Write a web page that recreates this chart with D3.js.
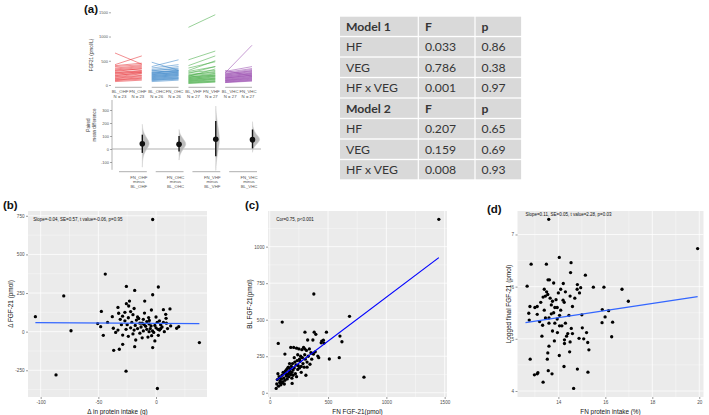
<!DOCTYPE html>
<html><head><meta charset="utf-8">
<script src="https://cdn.jsdelivr.net/npm/d3@7"></script>
<style>body{margin:0;background:#fff} svg{display:block}</style>
</head><body><svg id="c" width="709" height="415" font-family='"Liberation Sans", Arial, sans-serif'></svg>
<script>
// ================= DATA =================
// Panel (a) – paired estimation plot
const groups = ["OHF","OHC","VHF","VHC"];
const groupN = [23,26,27,27];
const blOHF = [660,420,400,380,350,330,310,300,280,260,250,240,220,200,190,170,160,140,130,110,100,90,70];
const fnOHF = [430,600,450,420,400,380,360,330,340,300,290,260,280,240,260,230,200,190,170,150,140,120,100];
const blOHC = [470,380,350,320,300,290,270,260,250,240,230,220,210,200,190,180,170,160,150,140,130,120,110,100,90,70];
const fnOHC = [300,520,420,380,330,350,290,310,280,300,260,250,270,230,240,210,220,190,200,160,180,150,140,130,120,100];
const blVHF = [1190,520,400,350,300,280,260,240,220,200,190,180,170,160,150,140,130,120,110,100,90,80,70,60,50,40,30];
const fnVHF = [1450,700,600,480,500,380,300,380,260,280,240,330,200,230,210,180,190,150,170,140,130,120,110,90,80,70,60];
const blVHC = [250,300,280,260,240,230,220,210,200,190,180,170,160,150,145,140,130,120,110,100,95,90,80,70,60,55,50];
const fnVHC = [820,180,380,340,320,290,300,260,280,240,250,220,230,200,190,210,180,170,160,150,140,130,120,110,100,90,80];
const topTicks = [0,500,1000,1500];
const diffMean = [40,37,75,72];
const ciLow = [-30,-20,-55,5];
const ciHigh = [110,100,215,150];
const diffTicks = [-100,0,100,200,300];
// bootstrap distribution profiles [value, relative density]
const violinOHF = [[-140,0],[-80,0.04],[-40,0.18],[0,0.55],[40,1],[80,0.6],[120,0.2],[160,0.03],[190,0]];
const violinOHC = [[-85,0],[-45,0.08],[0,0.5],[37,1],[75,0.55],[115,0.1],[150,0]];
const violinVHF = [[-165,0],[-110,0.05],[-40,0.2],[30,0.42],[75,0.48],[130,0.4],[200,0.2],[270,0.05],[330,0]];
const violinVHC = [[-25,0],[15,0.15],[45,0.65],[72,1],[100,0.7],[130,0.25],[170,0.05],[210,0]];

// Table
const tableRows = [
  ["Model 1","F","p"],["HF","0.033","0.86"],["VEG","0.786","0.38"],["HF x VEG","0.001","0.97"],
  ["Model 2","F","p"],["HF","0.207","0.65"],["VEG","0.159","0.69"],["HF x VEG","0.008","0.93"]
];
const headerRows = [0,4];

// Panel (b): [Δ protein intake (g), Δ FGF-21 (pmol)]
const panelB = [[-2.9,726],[-44,373],[-80,231],[-104.6,97],[-73.7,6],[-86.7,-280],[-26,-256],[1.2,-368],[37.6,-71],
 [-25.7,293],[2,289],[-18.5,267],[-9.8,198],[-2.9,239],[-23,198],[-25.7,181],[-23.7,166],[-33,157],[-47.4,131],
 [-50.6,52],[-48,32],[-45.7,-24],[-37.9,97],[-32.4,119],[-37,22],[-28.9,-22],[-28.9,-82],[-36.7,-121],[-31.8,-114],
 [-18.5,-97],[-17.6,-54],[-2.9,-103],[-4.3,37],[-5.8,73],[6.4,142],[12.1,147],[8.4,112],[8.7,86],[12.7,37],[17.9,22],
 [19.7,32],[7.2,0],[2,-24],[5.2,30],[4,19],[-3.8,-26],[1.7,15],[6.4,60],[-6.4,91],[-10.4,47],
 [-27,70],[-25,45],[-24,90],[-22,25],[-21,60],[-20,110],[-19,10],[-18,40],[-17,75],[-16,20],[-15,85],[-14,-10],
 [-13,30],[-12,55],[-11,5],[-10,120],[-9,35],[-8,15],[-7,-35],[-6,50],[-5,20],[-4,140],[-3,5],[-1,40],[0,25],[1,60],
 [3,10],[4,45],[-26,15],[-29,100],[-30,45],[-31,80],[-33,10],[-35,-5],[-20,-15],[-22,130],[-16,95],[-12,-40],[-8,65],
 [-2,-5],[0,95],[3,70],[-24,-30],[-19,150],[-14,55],[-6,0],[-27,125],[-11,80],[-1,-60],[9,55],[10,20],[-42,60]];
const fitB = [[-104.6,58],[37.6,52]];
const ticksBx = [-100,-50,0], minorBx = [-75,-25,25];
const ticksBy = [-250,0,250,500,750], minorBy = [-375,-125,125,375,625];

// Panel (c): [FN FGF-21, BL FGF-21] (pmol)
const panelC = [[1450,1187],[378,676],[684,523],[107,484],[73,338],[808,107],[511,231],[596,240],[602,388],[619,349],
 [486,415],[381,415],[395,400],[302,415],[446,354],[441,342],[370,361],[325,361],[412,251],[353,274],[192,64],[130,265],[55,30],
 [60,60],[65,90],[70,130],[75,45],[80,110],[85,70],[90,80],[95,55],[100,95],[105,120],[110,75],[115,140],[120,100],[125,60],
 [130,85],[135,150],[140,115],[145,125],[150,95],[155,170],[160,130],[165,110],[170,145],[175,160],[180,310],[180,125],
 [185,180],[190,140],[195,200],[200,155],[205,310],[210,170],[215,210],[220,130],[225,190],[230,305],[235,220],[240,160],
 [245,185],[250,300],[255,230],[260,215],[265,250],[270,140],[275,295],[280,240],[285,200],[290,310],[295,175],[300,260],
 [305,230],[310,120],[315,290],[320,210],[330,250],[340,300],[345,195],[360,230],[365,270],[375,265],[390,280],[420,240],
 [460,360],[465,340],[150,115],[200,120],[125,135],[100,65],[240,260],[210,240],[160,175],[270,180],[230,110],[88,100],
 [145,160],[255,170],[190,100],[300,300],[320,175],[170,200]];
const fitC = [[55,86],[1450,925]];
const ticksCx = [0,500,1000,1500], minorCx = [250,750,1250];
const ticksCy = [0,250,500,750,1000], minorCy = [125,375,625,875,1125];

// Panel (d): [FN protein intake (%), logged final FGF-21]
const panelD = [[13.59,7.29],[19.93,6.73],[12.84,6.43],[13.49,6.43],[14.04,6.56],[14.54,6.46],[14.52,6.27],[15.15,6.22],
 [13.56,6.13],[13.62,6.13],[14.81,6.04],[13.8,6.07],[14.21,6.06],[12.67,6.01],[14.95,5.98],[15.49,5.99],[15.94,5.99],
 [16.71,5.95],[16.98,5.72],[12.79,5.62],[12.74,5.49],[12.76,5.36],[13.1,5.47],[13.2,5.33],[13.33,5.26],[15.0,5.46],
 [15.87,5.56],[15.86,5.31],[15.99,5.42],[16.14,5.54],[16.31,5.32],[16.27,5.04],[15.02,5.21],[15.2,5.12],[15.08,5.0],
 [15.25,4.93],[15.3,4.79],[15.26,4.36],[14.81,4.42],[14.65,4.05],[12.8,4.61],[12.98,4.31],[13.13,4.35],[13.1,4.33],
 [13.35,4.17],[13.57,4.39],[13.73,4.33],[13.55,4.73],[13.6,4.86],[13.53,4.61],[14.04,4.68],[14.24,4.47],[14.26,4.91],
 [14.26,4.98],[14.88,5.01],[14.48,4.75],[14.5,4.94],[14.6,5.1],[13.96,5.12],[13.83,4.96],
 [13.0,5.6],[13.1,5.62],[13.25,5.7],[13.35,5.8],[13.4,5.95],[13.45,5.4],[13.5,5.9],[13.55,5.85],[13.6,5.3],[13.65,5.78],
 [13.7,5.65],[13.75,5.72],[13.8,5.5],[13.85,5.6],[13.9,5.75],[13.95,5.38],[14.0,5.88],[14.05,5.45],[14.1,5.55],[14.15,5.25],
 [14.2,5.74],[14.25,5.7],[14.3,5.3],[14.35,5.05],[14.4,5.1],[14.5,5.82],[14.6,5.62],[14.7,5.78],[14.8,5.95],[14.9,5.88],
 [13.3,5.05],[13.85,5.3],[14.05,5.25],[13.7,5.48],[13.95,5.6],[14.55,5.2],[13.45,5.82],[14.3,5.9],[13.6,5.4],[14.1,5.95],
 [13.75,5.15],[13.4,5.55],[14.45,5.45]];
const fitD = [[12.6,5.31],[19.93,5.81]];
const ticksDx = [14,16,18,20], minorDx = [13,15,17,19];
const ticksDy = [4,5,6,7], minorDy = [4.5,5.5,6.5];

// ================= DRAWING =================
const blValues = [blOHF, blOHC, blVHF, blVHC];
const fnValues = [fnOHF, fnOHC, fnVHF, fnVHC];
const violins = [violinOHF, violinOHC, violinVHF, violinVHC];
const groupColors = ["#e8383d","#3f87c9","#47ad47","#9b4fb0"];
const FONT = '"Liberation Sans", Arial, sans-serif';
const fmt = d => String(d);
const svg = d3.select("#c");

function panelLabel(txt, x, y){
  svg.append("text").attr("x",x).attr("y",y).text(txt)
    .attr("font-size",11.5).attr("font-weight","bold").attr("fill","#111");
}

// ---------- (a) upper: paired lines ----------
const gA = svg.append("g");
const xBand = d3.scaleBand().domain(groups).range([115,252]).paddingInner(0.27).paddingOuter(0);
const bw = xBand.bandwidth();
const yTop = d3.scaleLinear().domain([0,1500]).range([85,12.3]);

groups.forEach((g,i)=>{
  const bl = blValues[i], fn = fnValues[i];
  gA.append("g").selectAll("line").data(d3.range(bl.length)).join("line")
    .attr("x1", xBand(g)).attr("x2", xBand(g)+bw)
    .attr("y1", j=>yTop(bl[j])).attr("y2", j=>yTop(fn[j]))
    .attr("stroke", groupColors[i]).attr("stroke-width",0.75).attr("stroke-opacity",0.75);
  gA.append("line").attr("x1",xBand(g)).attr("x2",xBand(g)+bw).attr("y1",87.3).attr("y2",87.3)
    .attr("stroke","#9a9a9a").attr("stroke-width",0.8);
  const lab = [["BL_"+g, xBand(g)+5],["FN_"+g, xBand(g)+bw-4]];
  lab.forEach(([t,x])=>{
    gA.append("text").attr("x",x).attr("y",93).attr("text-anchor","middle").attr("font-size",4.3).attr("fill","#555").text(t);
    gA.append("text").attr("x",x).attr("y",98).attr("text-anchor","middle").attr("font-size",4.3).attr("fill","#555").text("N = "+groupN[i]);
  });
});
const ayTop = gA.append("g").attr("transform","translate(111,0)")
  .call(d3.axisLeft(yTop).tickValues(topTicks).tickFormat(fmt).tickSize(2).tickPadding(1));
ayTop.select(".domain").remove();
ayTop.selectAll("text").attr("font-size",4).attr("fill","#555").attr("font-family",FONT);
ayTop.selectAll("line").attr("stroke","#555").attr("stroke-width",0.5);
gA.append("text").attr("transform","translate(93,55) rotate(-90)").attr("text-anchor","middle")
  .attr("font-size",4.6).attr("fill","#333").text("FGF21 (pmol/L)");

// ---------- (a) lower: paired mean difference ----------
const yLow = d3.scaleLinear().domain([-100,300]).range([162,110]);
const gL = svg.append("g");
gL.append("line").attr("x1",112).attr("x2",112).attr("y1",yLow(377)).attr("y2",yLow(-160))
  .attr("stroke","#666").attr("stroke-width",0.5);
gL.append("line").attr("x1",112).attr("x2",261).attr("y1",yLow(0)).attr("y2",yLow(0))
  .attr("stroke","#a8a8a8").attr("stroke-width",0.9);
const wScale = d3.scaleLinear().domain([0,1]).range([0,8]);
groups.forEach((g,i)=>{
  const base = xBand(g)+bw+0.5;
  const area = d3.area().curve(d3.curveBasis)
    .y(d=>yLow(d[0])).x0(base).x1(d=>base+wScale(d[1]));
  gL.append("path").attr("d",area(violins[i])).attr("fill","#b0b0b0").attr("fill-opacity",0.85)
    .attr("stroke","#cfcfcf").attr("stroke-width",0.5);
  gL.append("line").attr("x1",base).attr("x2",base).attr("y1",yLow(ciLow[i])).attr("y2",yLow(ciHigh[i]))
    .attr("stroke","#111").attr("stroke-width",1.4);
  gL.append("circle").attr("cx",base).attr("cy",yLow(diffMean[i])).attr("r",2.8).attr("fill","#111");
  gL.append("line").attr("x1",xBand(g)+4).attr("x2",xBand(g)+bw+5).attr("y1",171.7).attr("y2",171.7)
    .attr("stroke","#9a9a9a").attr("stroke-width",0.8);
  const cx = xBand(g)+bw-3;
  ["FN_"+g,"minus","BL_"+g].forEach((t,k)=>{
    gL.append("text").attr("x",cx).attr("y",179+k*4.4).attr("text-anchor","middle")
      .attr("font-size",4.3).attr("fill","#555").text(t);
  });
});
const ayLow = gL.append("g").attr("transform","translate(112,0)")
  .call(d3.axisLeft(yLow).tickValues(diffTicks).tickFormat(fmt).tickSize(2).tickPadding(1));
ayLow.select(".domain").remove();
ayLow.selectAll("text").attr("font-size",4).attr("fill","#555").attr("font-family",FONT);
ayLow.selectAll("line").attr("stroke","#555").attr("stroke-width",0.5);
gL.append("text").attr("transform","translate(90,125) rotate(-90)").attr("text-anchor","middle")
  .attr("font-size",4.6).attr("fill","#333").text("Paired");
gL.append("text").attr("transform","translate(95.5,125) rotate(-90)").attr("text-anchor","middle")
  .attr("font-size",4.6).attr("fill","#333").text("mean difference");

panelLabel("(a)", 84, 13);

// ---------- Table ----------
const colEdges = [340,418.3,475,521.7];
const rowScale = d3.scaleBand().domain(d3.range(tableRows.length)).range([16.7,179.3]).paddingInner(0.065);
const gT = svg.append("g");
tableRows.forEach((row,r)=>{
  row.forEach((cell,c)=>{
    const x0 = colEdges[c]+(c>0?0.6:0), x1 = colEdges[c+1]-0.6;
    gT.append("rect").attr("x",x0).attr("y",rowScale(r)).attr("width",x1-x0).attr("height",rowScale.bandwidth())
      .attr("fill","#d9d9d9");
    gT.append("text").attr("x",x0+6).attr("y",rowScale(r)+rowScale.bandwidth()/2)
      .attr("dominant-baseline","central").attr("font-family",'Lato, "Open Sans", sans-serif')
      .attr("font-size",12.2).attr("fill","#363636")
      .attr("font-weight", headerRows.includes(r)?"bold":"normal").text(cell);
  });
});

// ---------- ggplot-like scatter panels ----------
function ggPanel(o){
  const g = svg.append("g");
  const x = d3.scaleLinear().domain(o.xDomain).range([o.left,o.right]);
  const y = d3.scaleLinear().domain(o.yDomain).range([o.bottom,o.top]);
  g.append("rect").attr("x",o.left).attr("y",o.top).attr("width",o.right-o.left).attr("height",o.bottom-o.top)
    .attr("fill","#ebebeb");
  g.selectAll(".mx").data(o.minorX).join("line").attr("x1",d=>x(d)).attr("x2",d=>x(d)).attr("y1",o.top).attr("y2",o.bottom)
    .attr("stroke","#fff").attr("stroke-width",0.35);
  g.selectAll(".my").data(o.minorY).join("line").attr("y1",d=>y(d)).attr("y2",d=>y(d)).attr("x1",o.left).attr("x2",o.right)
    .attr("stroke","#fff").attr("stroke-width",0.35);
  g.selectAll(".Mx").data(o.ticksX).join("line").attr("x1",d=>x(d)).attr("x2",d=>x(d)).attr("y1",o.top).attr("y2",o.bottom)
    .attr("stroke","#fff").attr("stroke-width",0.75);
  g.selectAll(".My").data(o.ticksY).join("line").attr("y1",d=>y(d)).attr("y2",d=>y(d)).attr("x1",o.left).attr("x2",o.right)
    .attr("stroke","#fff").attr("stroke-width",0.75);
  g.append("g").selectAll("circle").data(o.points).join("circle")
    .attr("cx",d=>x(d[0])).attr("cy",d=>y(d[1])).attr("r",1.65).attr("fill","#000");
  g.append("path").attr("d",d3.line().x(d=>x(d[0])).y(d=>y(d[1]))(o.fit))
    .attr("stroke",o.lineColor).attr("stroke-width",1.2).attr("fill","none");
  g.append("text").attr("x",x(o.ann[0])).attr("y",y(o.ann[1])).attr("dominant-baseline","central")
    .attr("font-size",4.5).attr("fill","#111").text(o.annText);
  const ax = g.append("g").attr("transform",`translate(0,${o.bottom})`)
    .call(d3.axisBottom(x).tickValues(o.ticksX).tickFormat(fmt).tickSize(2).tickPadding(1.5));
  ax.select(".domain").remove();
  const ay = g.append("g").attr("transform",`translate(${o.left},0)`)
    .call(d3.axisLeft(y).tickValues(o.ticksY).tickFormat(fmt).tickSize(2).tickPadding(1.5));
  ay.select(".domain").remove();
  [ax,ay].forEach(a=>{
    a.selectAll("text").attr("font-size",4.6).attr("fill","#4d4d4d").attr("font-family",FONT);
    a.selectAll("line").attr("stroke","#333").attr("stroke-width",0.5);
  });
  g.append("text").attr("x",(o.left+o.right)/2).attr("y",411).attr("text-anchor","middle")
    .attr("dominant-baseline","central").attr("font-size",6.4).attr("fill","#111").text(o.xTitle);
  g.append("text").attr("transform",`translate(${o.yTitleX},${(o.top+o.bottom)/2}) rotate(-90)`)
    .attr("text-anchor","middle").attr("dominant-baseline","central")
    .attr("font-size",6.4).attr("fill","#111").text(o.yTitle);
}

ggPanel({left:28,right:207,top:211,bottom:397,xDomain:[-111,44.2],yDomain:[-423,781],
  ticksX:ticksBx,minorX:minorBx,ticksY:ticksBy,minorY:minorBy,points:panelB,fit:fitB,lineColor:"#3366ff",
  ann:[-106.5,728],annText:"Slope=-0.04, SE=0.57, t value=-0.06, p=0.95",
  xTitle:"Δ in protein intake (g)",yTitle:"Δ FGF-21 (pmol)",yTitleX:10});
ggPanel({left:268,right:447,top:211,bottom:397,xDomain:[-15,1520],yDomain:[-29,1244],
  ticksX:ticksCx,minorX:minorCx,ticksY:ticksCy,minorY:minorCy,points:panelC,fit:fitC,lineColor:"#0000ff",
  ann:[55,1187],annText:"Cor=0.75, p<0.001",
  xTitle:"FN FGF-21(pmol)",yTitle:"BL FGF-21(pmol)",yTitleX:249});
ggPanel({left:517.5,right:703.5,top:211,bottom:397,xDomain:[12.26,20.18],yDomain:[3.885,7.45],
  ticksX:ticksDx,minorX:minorDx,ticksY:ticksDy,minorY:minorDy,points:panelD,fit:fitD,lineColor:"#3366ff",
  ann:[12.6,7.38],annText:"Slope=0.11, SE=0.05, t value=2.28, p=0.03",
  xTitle:"FN protein intake (%)",yTitle:"Logged final FGF-21 (pmol)",yTitleX:508});

panelLabel("(b)", 3, 209);
panelLabel("(c)", 245, 208.5);
panelLabel("(d)", 487, 213);
</script></body></html>
